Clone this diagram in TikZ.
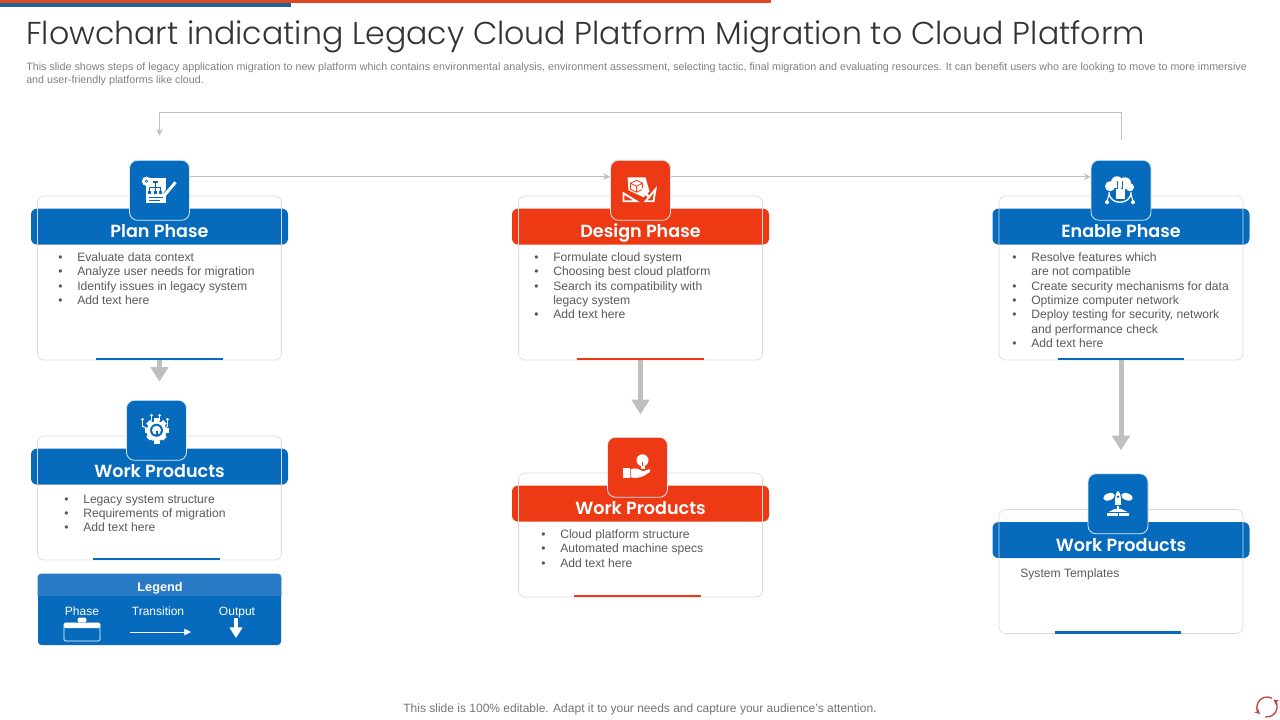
\documentclass[tikz,border=0pt]{standalone}
\usepackage{fontspec}
\setmainfont{Liberation Sans}
\newfontfamily\titlefont{Poppins Light}
\newfontfamily\headfont{Poppins SemiBold}
\usetikzlibrary{positioning,arrows.meta,calc}
\definecolor{phaseblue}{RGB}{7,107,189}
\definecolor{phasered}{RGB}{238,58,20}
\definecolor{legendhead}{RGB}{40,122,196}
\definecolor{cardline}{RGB}{217,217,217}
\definecolor{flowgray}{RGB}{191,191,191}
\definecolor{bodytext}{RGB}{89,89,89}
\definecolor{barblue}{RGB}{38,97,150}
\definecolor{barred}{RGB}{222,72,36}
\definecolor{logored}{RGB}{190,70,60}

\def\itm#1{\makebox[14.25pt][l]{\textbullet}#1\\}
\def\cnt#1{\hspace*{14.25pt}#1\\}

\begin{document}
\begin{tikzpicture}[
  x=0.75pt,y=-0.75pt,
  cardbox/.style={draw=cardline,line width=0.5pt,rounded corners=5pt,minimum width=183pt},
  bandbox/.style={rounded corners=4.5pt,minimum width=192.75pt,minimum height=27pt,inner sep=0pt},
  badgebox/.style={draw=white!85!phaseblue,line width=0.6pt,rounded corners=6pt,minimum size=45pt,inner sep=0pt},
  accentbar/.style={minimum width=95pt,minimum height=1.6pt,inner sep=0pt},
  headtext/.style={font=\headfont\fontsize{13.2}{16}\selectfont,text=white,inner sep=0pt,anchor=base},
  listtext/.style={font=\fontsize{9.1}{10.75}\selectfont,text=bodytext,align=left,anchor=north west,inner sep=0pt},
  legendtext/.style={font=\fontsize{9}{11}\selectfont,text=white,inner sep=0pt,anchor=base},
  flowarr/.style={-{Stealth[length=5pt,width=5pt]},draw=flowgray,line width=0.6pt},
  outarr/.style={-{Triangle[length=11pt,width=13pt]},draw=flowgray,line width=3.75pt},
]

\useasboundingbox (0,0) rectangle (1280,720);

% Helper macro for one card
\def\phaseblock#1#2#3#4#5#6{%
  % #1=name
  % #2=colour
  % #3=card centre
  % #4=card height
  % #5=heading
  % #6=badge offset
  \node[cardbox,draw=none,minimum height=#4] (#1) at (#3) {};
  \node[bandbox,fill=#2,below=9.5pt of #1.north] (#1band) {};
  \node[cardbox,minimum height=#4] (#1line) at (#3) {};
  \node[badgebox,fill=#2,anchor=south,xshift=#6] (#1badge) at ($(#1.north)+(0,25)$) {};
  \node[headtext] (#1head) at ($(#1band.center)+(0,11)$) {#5};
  \node[accentbar,fill=#2,anchor=south,xshift=#6] (#1accent) at (#1.south) {};
}

% --- TOP BARS ---
\fill[barred] (0,0) rectangle (771,3.2);
\fill[barblue] (0,3.5) rectangle (291,6.8);

% --- HEADER ---
\node[anchor=base west,inner sep=0pt,text=black!80,font=\titlefont\fontsize{23.7}{28}\selectfont] (slidetitle) at (26,44.5)
  {Flowchart indicating Legacy Cloud Platform Migration to Cloud Platform};
\node[anchor=north west,inner sep=0pt,text=black!50,align=left,font=\fontsize{8.04}{9.8}\selectfont] (slidenote) at (26,62)
  {This slide shows steps of legacy application migration to new platform which contains environmental analysis, environment assessment, selecting tactic, final migration and evaluating resources. It can benefit users who are looking to move to more immersive\\and user-friendly platforms like cloud.};

% --- CARDS ---
\phaseblock{plan}{phaseblue}{159.5,278}{123pt}{Plan Phase}{0pt}
\phaseblock{design}{phasered}{640.5,278}{123pt}{Design Phase}{0pt}
\phaseblock{enable}{phaseblue}{1121,278}{123pt}{Enable Phase}{0pt}
\phaseblock{planwork}{phaseblue}{159.5,498}{93pt}{Work Products}{-2.25pt}
\phaseblock{designwork}{phasered}{640.5,535}{93pt}{Work Products}{-2.25pt}
\phaseblock{enablework}{phaseblue}{1121,571.5}{93pt}{Work Products}{-2.25pt}

% --- CARD TEXT ---
\node[listtext] (plantext) at (58,252.5) {\itm{Evaluate data context}\itm{Analyze user needs for migration}\itm{Identify issues in legacy system}\itm{Add text here}};
\node[listtext] (designtext) at (534,252.5) {\itm{Formulate cloud system}\itm{Choosing best cloud platform}\itm{Search its compatibility with}\cnt{legacy system}\itm{Add text here}};
\node[listtext] (enabletext) at (1012,252.5) {\itm{Resolve features which}\cnt{are not compatible}\itm{Create security mechanisms for data}\itm{Optimize computer network}\itm{Deploy testing for security, network}\cnt{and performance check}\itm{Add text here}};
\node[listtext] (planworktext) at (64,494.5) {\itm{Legacy system structure}\itm{Requirements of migration}\itm{Add text here}};
\node[listtext] (designworktext) at (541,529.5) {\itm{Cloud platform structure}\itm{Automated machine specs}\itm{Add text here}};
\node[listtext] (enableworktext) at (1020,568.5) {System Templates};

% --- CONNECTORS ---
\draw[flowarr] (planbadge.24) -- (designbadge.156);
\draw[flowarr] (designbadge.24) -- (enablebadge.156);
\coordinate[above=15.25pt of enablebadge] (enabletop);
\coordinate[above=18.25pt of planbadge] (plantop);
\draw[flowarr] (enabletop) -- ++(0,-27) -| (plantop);
\coordinate[below=16pt of plan] (planout);
\coordinate[below=40.5pt of design] (designout);
\coordinate[below=67.5pt of enable] (enableout);
\draw[outarr] (plan.south) -- (planout);
\draw[outarr] (design.south) -- (designout);
\draw[outarr] (enable.south) -- (enableout);

% --- ICONS ---
% plan: sheet, gear, pencil
\begin{scope}[shift={(planbadge)}]
  \fill[white] (-14,-12) rectangle (6,13);
  \fill[phaseblue] (-7,-9) rectangle (-2,-7);
  \draw[phaseblue,line width=0.6pt] (-4.5,-7) -- (-4.5,-3) (-10,1) |- (1,-3) -- (1,1) (-4.5,-3) -- (-4.5,1);
  \foreach \x in {-10,-4.5,1} \fill[phaseblue] (\x-1.5,1) rectangle (\x+1.5,4);
  \draw[phaseblue,line width=0.4pt] (-11,7) -- (3,7) (-11,10) -- (0,10);
  \draw[white,line width=3pt,fill=white] (-13,-9) circle (2.5);
  \draw[phaseblue,line width=0.4pt] (-13,-9) circle (1.2);
  \draw[white,line width=2.2pt] (5,5) -- (16,-8);
  \draw[phaseblue,line width=0.4pt] (4,3) -- (14,-9);
\end{scope}
% design: sheet, cube, set squares
\begin{scope}[shift={(designbadge)}]
  \fill[white] (-13,-13) -- (5,-13) -- (9,1) -- (3,7) -- (-12,0) -- cycle;
  \draw[phasered,line width=0.6pt] (-4,-10) -- (2,-7) -- (2,-1) -- (-4,2) -- (-10,-1) -- (-10,-7) -- cycle (-10,-7) -- (-4,-4) -- (2,-7) (-4,-4) -- (-4,2);
  \draw[white,line width=1.4pt] (-17,3) -- (-4,11) -- (-17,11) -- cycle;
  \draw[white,line width=1.4pt] (5,11) -- (15,-1) -- (13,11) -- cycle;
  \draw[white,line width=1.8pt] (2,-2) -- (9,8);
\end{scope}
% enable: cloud, hand, globe
\begin{scope}[shift={(enablebadge)}]
  \fill[white] (-11,-4) circle (5) (-4,-8) circle (6) (4,-7) circle (6) (9,-3) circle (4);
  \draw[white,line width=1pt] (-12,2) .. controls (-12,9) and (-6,12) .. (-1,12) .. controls (4,12) and (10,9) .. (10,2);
  \fill[white] (-5,-1) rectangle (4,9);
  \fill[white] (-3,-9) rectangle (0,2);
  \draw[phaseblue,line width=0.5pt] (-4,-9) -- (-4,-1) (1,-9) -- (1,-1);
  \draw[white,line width=0.8pt] (-12,4) -- (-14,11) (10,4) -- (12,11);
  \fill[white] (-14,12) circle (2) (12,12) circle (2);
\end{scope}
% planwork: gear, bulb, leads
\begin{scope}[shift={(planworkbadge)}]
  \foreach \a in {0,45,...,315}
    \fill[white,rotate=\a] (-2.5,-12) rectangle (2.5,-8);
  \fill[white] (0,1) circle (10);
  \fill[phaseblue] (0,0) circle (6.5);
  \fill[white] (0,0) circle (4.5);
  \fill[phaseblue] (-1,1) rectangle (1,5);
  \fill[white] (-3,11) rectangle (3,14);
  \draw[white,line width=0.7pt] (-14,-10) -- (-14,-4) -- (-10,-2) (-5,-14) -- (-5,-9) (3,-14) -- (3,-9) (11,-10) -- (11,-4) -- (8,-2);
  \foreach \x/\y in {-14/-11,-5/-15,3/-15,11/-11} \fill[white] (\x,\y) circle (1.5);
\end{scope}
% designwork: hand holding a bulb
\begin{scope}[shift={(designworkbadge)}]
  \fill[white] (-15,1) rectangle (-8,11);
  \fill[white] (-7,2) .. controls (-2,0) and (2,2) .. (5,4) -- (12,2) .. controls (13,3) and (13,4) .. (12,5) .. controls (6,9) and (2,12) .. (-7,10) -- cycle;
  \fill[white] (5,-7) circle (6);
  \fill[white] (3,-2) rectangle (7,2);
  \draw[phasered,line width=0.5pt] (5,-5) -- (5,-1);
\end{scope}
% enablework: rocket, clouds, open book
\begin{scope}[shift={(enableworkbadge)}]
  \fill[white] (0,-13) .. controls (3,-10) and (3,-6) .. (3,1) -- (-3,1) .. controls (-3,-6) and (-3,-10) .. (0,-13) -- cycle;
  \fill[phaseblue] (0,-7) circle (1.3);
  \fill[white,rotate around={20:(-9,-7)}] (-9,-7) ellipse (6 and 3.5);
  \fill[white,rotate around={-20:(9,-7)}] (9,-7) ellipse (6 and 3.5);
  \fill[white] (-1,2) rectangle (1,6);
  \fill[white] (-11,12) -- (-11,9) -- (-3,5) -- (3,5) -- (11,9) -- (11,12) -- cycle;
  \draw[phaseblue,line width=0.5pt] (-11,9) -- (11,9) (0,9) -- (0,12);
\end{scope}

% --- LEGEND ---
\node[fill=phaseblue,rounded corners=2.5pt,minimum width=182.25pt,minimum height=53.25pt,inner sep=0pt] (legendbox) at (159.5,609.5) {};
\coordinate (legendbase) at (159.5,596);
\fill[legendhead] (legendbox.west |- legendbase) [rounded corners=2.5pt] -- (legendbox.north west) -- (legendbox.north east) [sharp corners] -- (legendbox.east |- legendbase) -- cycle;
\node[legendtext,font=\bfseries\fontsize{9.5}{11}\selectfont] (legendhead) at (160,591) {Legend};
\node[legendtext] (legendphase) at (82,615) {Phase};
\node[legendtext] (legendtrans) at (158,615) {Transition};
\node[legendtext] (legendoutput) at (237,615) {Output};
\node[draw=white,line width=0.6pt,rounded corners=1pt,minimum width=27pt,minimum height=13.5pt,inner sep=0pt] (legendcase) at (82,632) {};
\node[fill=white,rounded corners=1pt,minimum width=27pt,minimum height=4pt,inner sep=0pt,below=0pt of legendcase.north] (legendlid) {};
\node[fill=white,rounded corners=1pt,minimum width=6.5pt,minimum height=3.5pt,inner sep=0pt,above=0pt of legendcase.north] (legendgrip) {};
\coordinate (transleft) at (130,632);
\coordinate (transright) at (191,632);
\draw[-{Triangle[length=5pt,width=5pt]},draw=white,line width=0.6pt] (transleft) -- (transright);
\coordinate (outputtop) at (236,618);
\coordinate (outputend) at (236,638);
\draw[-{Triangle[length=8pt,width=9.5pt]},draw=white,line width=3pt] (outputtop) -- (outputend);

% --- FOOTER ---
\node[font=\fontsize{9}{11}\selectfont,text=black!55,inner sep=0pt] (slidefoot) at (640,709.5)
  {This slide is 100\% editable. Adapt it to your needs and capture your audience's attention.};

% --- LOGO ---
\node[minimum size=15pt,inner sep=0pt] (logomark) at (1267,707) {};
\draw[logored,line width=1pt,-{Stealth[length=4pt,width=4pt]}] ([shift={(60:7.5pt)}]logomark.center) arc[start angle=60,end angle=225,radius=7.5pt];
\draw[logored,line width=1pt,-{Stealth[length=4pt,width=4pt]}] ([shift={(260:7.5pt)}]logomark.center) arc[start angle=260,end angle=410,radius=7.5pt];

\end{tikzpicture}
\end{document}
